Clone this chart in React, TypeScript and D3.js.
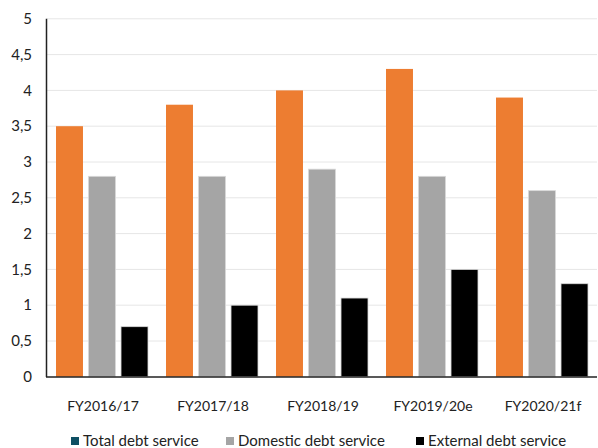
import React from "react";
import * as d3 from "d3";

const categories = ["FY2016/17", "FY2017/18", "FY2018/19", "FY2019/20e", "FY2020/21f"];
const totalDebt = [3.5, 3.8, 4.0, 4.3, 3.9];
const domesticDebt = [2.8, 2.8, 2.9, 2.8, 2.6];
const externalDebt = [0.7, 1.0, 1.1, 1.5, 1.3];
const yTicks = [0, 0.5, 1, 1.5, 2, 2.5, 3, 3.5, 4, 4.5, 5];
const seriesNames = ["Total debt service", "Domestic debt service", "External debt service"];
const barColors = ["#ED7D31", "#A5A5A5", "#000000"];
const legendColors = ["#0E4F63", "#A5A5A5", "#000000"];

const W = 598;
const H = 448;
const FONT = "Lato, 'Open Sans', sans-serif";

export default function App() {
  const x = d3.scaleBand<string>().domain(categories).range([47, 597]).paddingInner(0).paddingOuter(0);
  const y = d3.scaleLinear().domain([0, 5]).range([376.8, 18.8]);
  const series = [totalDebt, domesticDebt, externalDebt];
  const inner = d3.scaleBand<number>().domain([0, 1, 2]).range([9, 101]).paddingInner(0.17);
  const fmt = (v: number) => String(v).replace(".", ",");
  const legendX = [71, 226, 416];

  return (
    <svg width={W} height={H} style={{ position: "absolute", left: 0, top: 0 }}>
      <rect width={W} height={H} fill="#fff" />
      {yTicks.map((t) => (
        <g key={t}>
          {t > 0 && <line x1={47} x2={597} y1={y(t)} y2={y(t)} stroke="#E6E6E6" strokeWidth={1} />}
          <text x={32} y={y(t)} dy="0.35em" textAnchor="end" fontFamily={FONT} fontSize={15} fill="#222">
            {fmt(t)}
          </text>
        </g>
      ))}
      {categories.map((c, i) => (
        <g key={c}>
          {series.map((s, k) => (
            <rect
              key={k}
              x={(x(c) as number) + (inner(k) as number)}
              y={y(s[i])}
              width={inner.bandwidth()}
              height={y(0) - y(s[i])}
              fill={barColors[k]}
              stroke={k === 0 ? "none" : "#d9d9d9"}
              strokeWidth={k === 0 ? 0 : 0.8}
            />
          ))}
          <text
            x={(x(c) as number) + x.bandwidth() / 2 + 1}
            y={406}
            dy="0.35em"
            textAnchor="middle"
            fontFamily={FONT}
            fontSize={14}
            fill="#222"
          >
            {c}
          </text>
        </g>
      ))}
      <line x1={46.5} x2={46.5} y1={18.8} y2={377} stroke="#222" strokeWidth={1.5} />
      <line x1={46} x2={597} y1={377} y2={377} stroke="#222" strokeWidth={1.5} />
      {seriesNames.map((n, k) => (
        <g key={n}>
          <rect x={legendX[k]} y={437} width={8} height={8} fill={legendColors[k]} />
          <text x={legendX[k] + 12} y={441} dy="0.35em" fontFamily={FONT} fontSize={15} fill="#222">
            {n}
          </text>
        </g>
      ))}
    </svg>
  );
}
